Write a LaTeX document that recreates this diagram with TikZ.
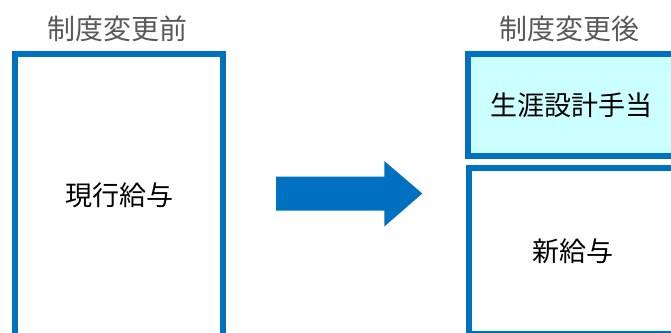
\documentclass[tikz,border=0pt]{standalone}
\usepackage{fontspec}
\setmainfont{Noto Sans CJK JP}
\definecolor{boxblue}{HTML}{0070C0}
\definecolor{lightcyan}{HTML}{CCFFFF}
\definecolor{titlegray}{HTML}{595959}
\tikzset{
  panel/.style={draw=boxblue, line width=6pt, rectangle, inner sep=0pt, outer sep=0pt, font=\fontsize{27}{27}\selectfont, text=black},
  paneltitle/.style={font=\fontsize{28}{28}\selectfont, text=titlegray, inner sep=0pt},
}
\begin{document}
\begin{tikzpicture}[x=1pt,y=-1pt]
\useasboundingbox (0,0) rectangle (671,332);
\begin{scope}
\clip (0,0) rectangle (671,332);
\node[panel, fill=white, minimum width=208pt, minimum height=282pt] (before) at (119.3,195) {現行給与};
\node[panel, fill=lightcyan, minimum width=208pt, minimum height=102pt] (allow) at (571.5,105) {生涯設計手当};
\node[panel, fill=white, minimum width=208pt, minimum height=166pt] (newpay) at (573,251) {新給与};
\fill[boxblue] (276,176.7) -- (384.3,176.7) -- (384.3,161) -- (422.3,193.5) -- (384.3,226.5) -- (384.3,210.7) -- (276,210.7) -- cycle;
\end{scope}
\node[paneltitle] (tbefore) at (117.5,29) {制度変更前};
\node[paneltitle] (tafter) at (569.5,29) {制度変更後};
\end{tikzpicture}
\end{document}
